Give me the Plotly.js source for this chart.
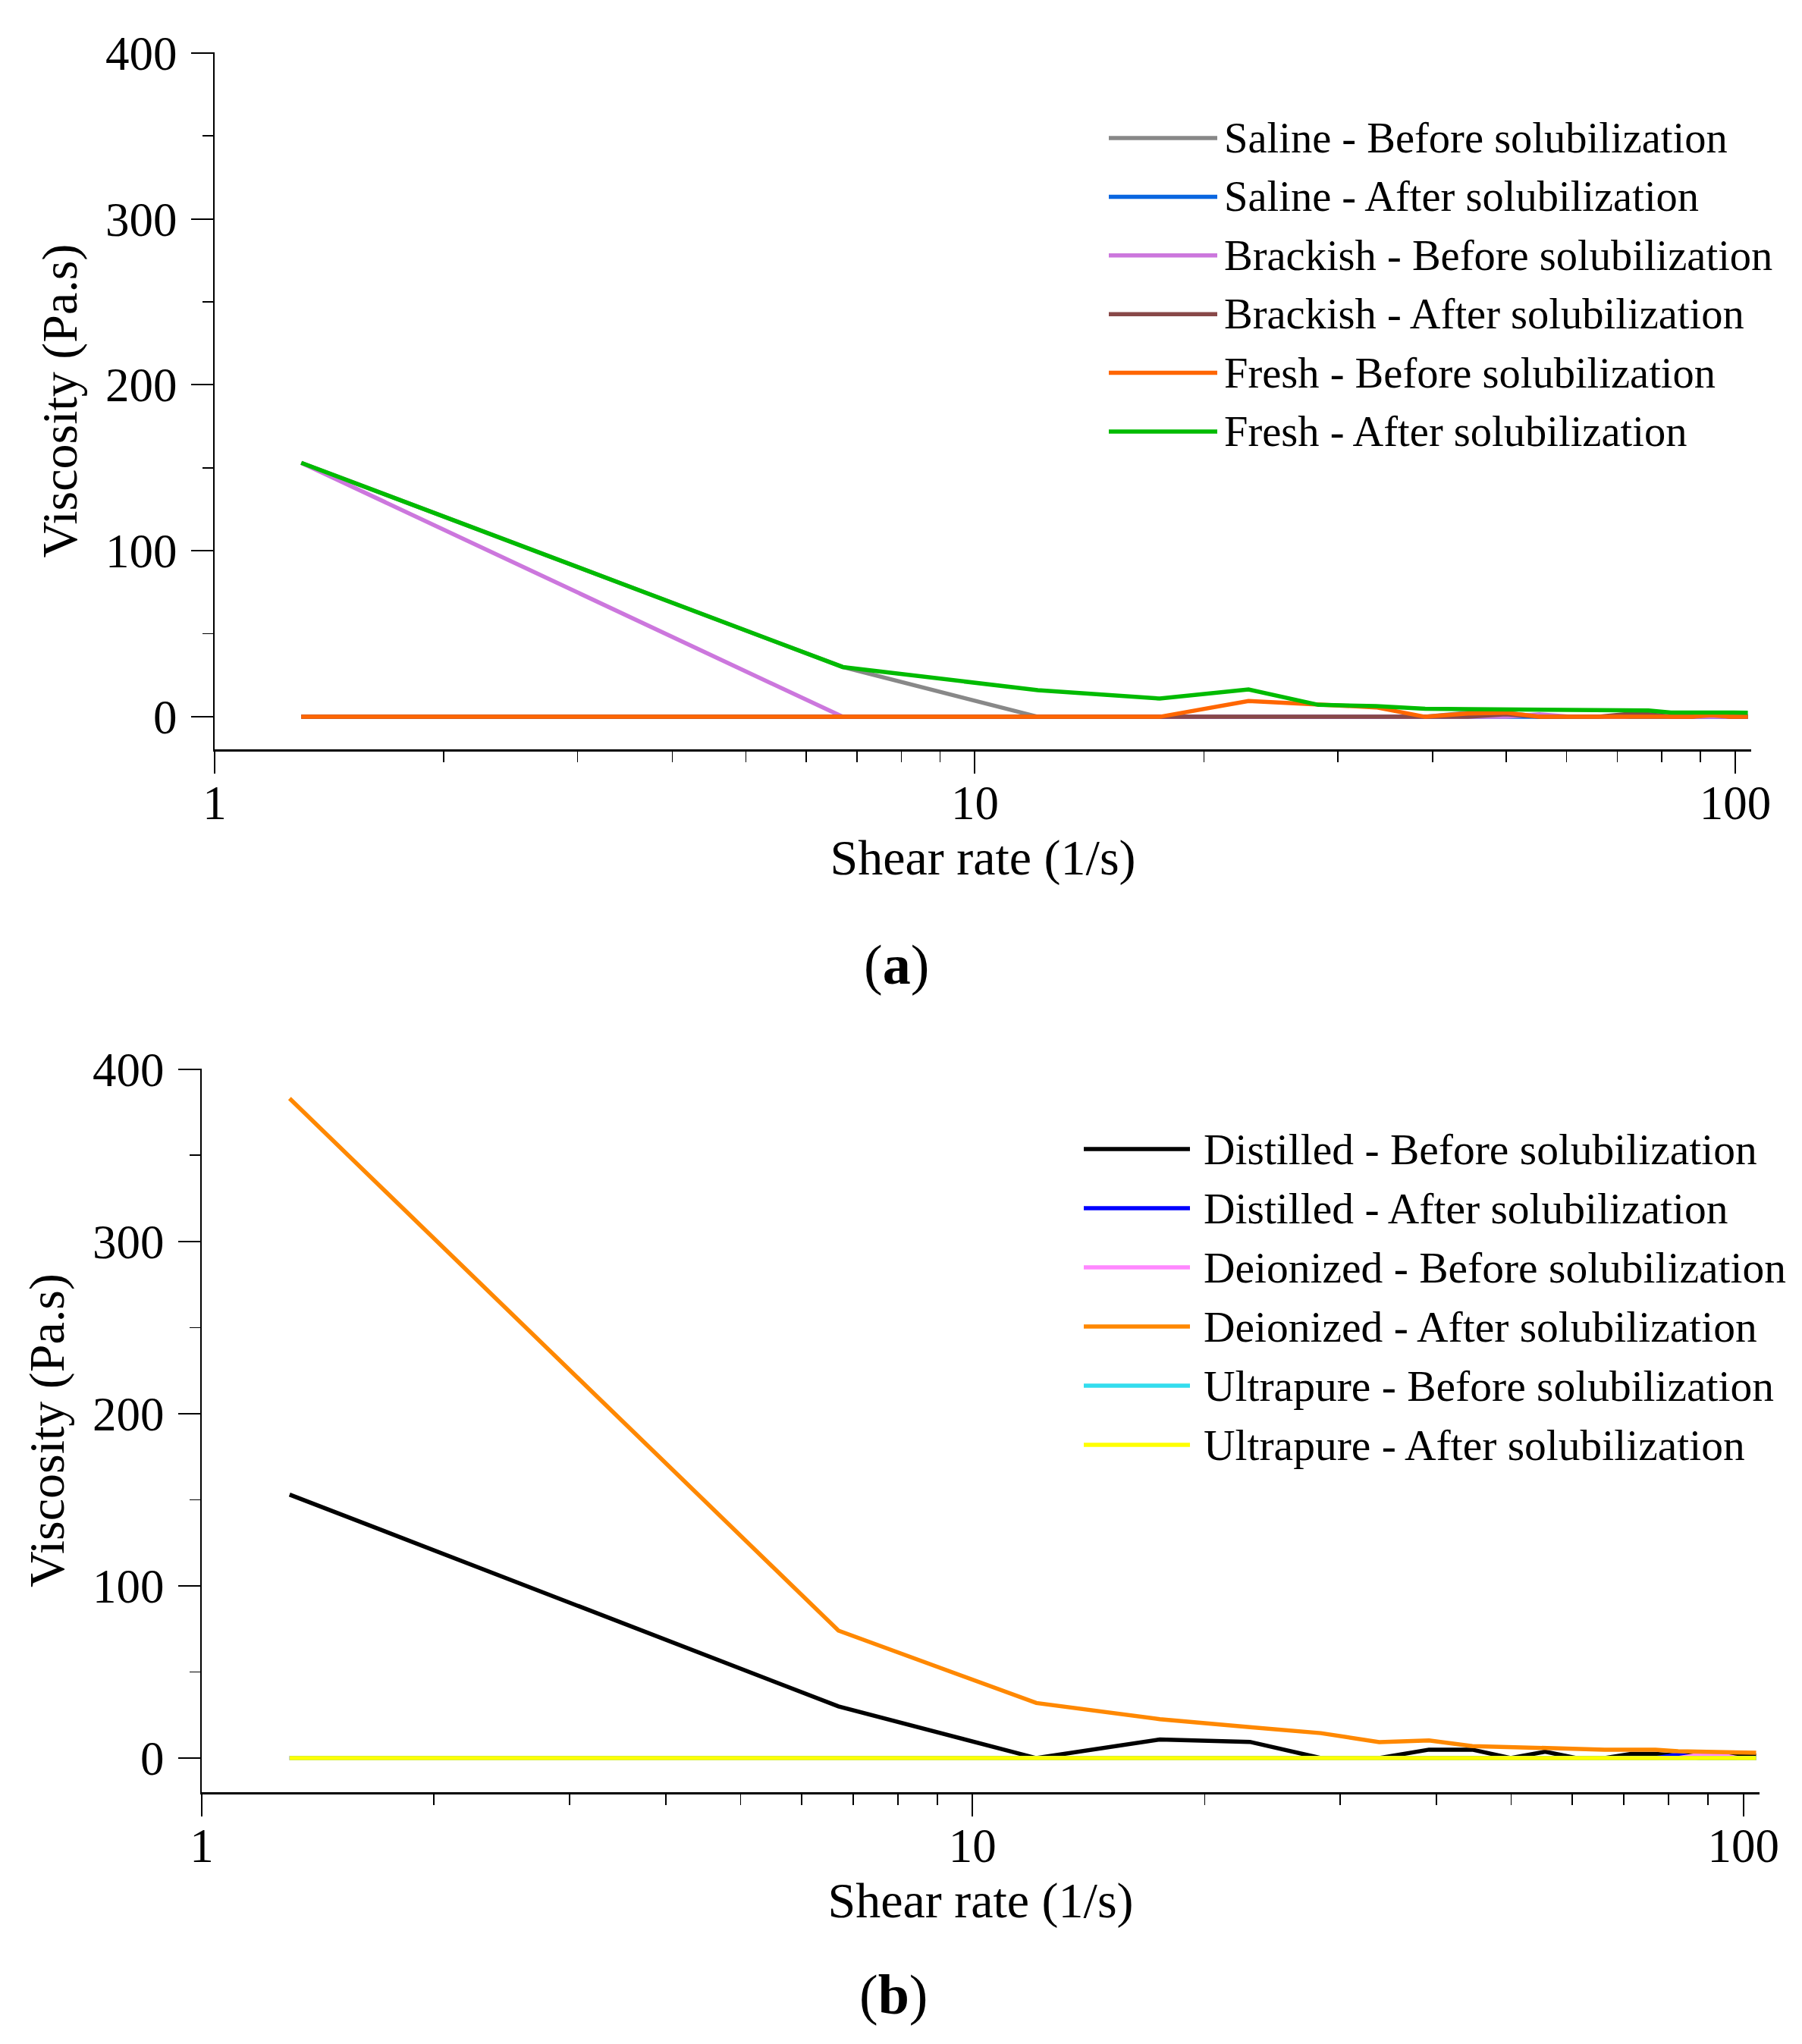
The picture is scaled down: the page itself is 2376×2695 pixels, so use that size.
<!DOCTYPE html>
<html>
<head>
<meta charset="utf-8">
<script src="https://cdn.plot.ly/plotly-3.0.1.min.js"></script>
<style>
   body { margin: 0; background: #fff; }
   #graph { width: 2376px; height: 2695px; }
</style>
</head>
<body>
<div id="graph"></div>
<script>
// shear rate steps (1/s), same for both panels
const shearRate = [1.3, 6.7, 12.1, 17.5, 22.9, 28.3, 33.7, 39.1, 44.5, 49.9,
                   55.3, 60.7, 66.1, 71.5, 76.9, 82.3, 87.7, 93.1, 98.5, 103.9];

// panel (a): viscosity (Pa.s)
const salineBefore   = [153, 30, 0, 0, 0, 0, 0, 0, 2.5, 2.5, 0, 0, 0, 0, 0, 0, 0, 0, 0, 0];
const salineAfter    = [0, 0, 0, 0, 0, 0, 0, 0, 0, 0, 0, 0, 0, 0, 0, 0, 0, 0, 0, 0];
const brackishBefore = [153, 0, 0, 0, 0, 0, 0, 0, 0, 0, 1.5, 0, 0, 0, 1.5, 0, 0, 0, 0, 0];
const brackishAfter  = [0, 0, 0, 0, 0, 0, 0, 0, 0, 1.5, 0, 0, 0, 1.5, 1.5, 0, 0, 1.5, 0, 0];
const freshBefore    = [0, 0, 0, 0, 9.5, 7.2, 5.7, 0, 2, 2.5, 0, 0, 0, 0, 0, 0, 0, 1, 0, 0];
const freshAfter     = [153, 30, 16, 11, 16.5, 7.2, 6.4, 4.9, 4.6, 4.4, 4.4, 3.8, 3.8, 3.8, 3.8, 2.6, 2.5, 2.5, 2.5, 2.5];

// panel (b): viscosity (Pa.s)
const distilledBefore  = [153, 30, 0, 10.8, 9.4, 0, 0, 4.9, 4.9, 0, 3.7, 0, 0, 2.4, 2.4, 1.5, 1.5, 1.5, 1.5, 1.5];
const distilledAfter   = [0, 0, 0, 0, 0, 0, 0, 0, 0, 0, 0, 0, 0, 0, 0, 2, 0, 0, 0, 0];
const deionizedBefore  = [0, 0, 0, 0, 0, 0, 0, 0, 0, 0, 0, 0, 0, 0, 0, 0, 2, 2, 0, 0];
const deionizedAfter   = [383, 74, 32, 22.6, 18, 14.5, 9.3, 10.3, 7, 6.3, 5.9, 5.2, 4.9, 4.9, 4.9, 4, 3.7, 3.4, 3.2, 3.1];
const ultrapureBefore  = [0, 0, 0, 0, 0, 0, 0, 0, 0, 0, 0, 0, 0, 0, 0, 0, 0, 0, 0, 0];
const ultrapureAfter   = [0, 0, 0, 0, 0, 0, 0, 0, 0, 0, 0, 0, 0, 0, 0, 0, 0, 0, 0, 0];

const namesA = ['Saline - Before solubilization', 'Saline - After solubilization',
                'Brackish - Before solubilization', 'Brackish - After solubilization',
                'Fresh - Before solubilization', 'Fresh - After solubilization'];
const colorsA = ['#888888', '#0A66E0', '#CC77DD', '#884848', '#FF6600', '#00BB00'];

const namesB = ['Distilled - Before solubilization', 'Distilled - After solubilization',
                'Deionized - Before solubilization', 'Deionized - After solubilization',
                'Ultrapure - Before solubilization', 'Ultrapure - After solubilization'];
const colorsB = ['#000000', '#0000FF', '#FF88FF', '#FF8800', '#33DDEE', '#FFFF00'];

const xTickVals = [1, 10, 100];
const xTickText = ['1', '10', '100'];

const W = 2376, H = 2695;
const FONT = 'Liberation Serif, Times New Roman, serif';
const LINE_W = 5.5;

// pixel position on the page -> paper fraction
function px(x) { return x / W; }
function py(y) { return 1 - y / H; }

function makeTraces(seriesList, names, colors, xaxis, yaxis) {
   return seriesList.map((ys, i) => ({
      name: names[i],
      mode: 'lines',
      x: shearRate,
      y: ys,
      xaxis: xaxis,
      yaxis: yaxis,
      showlegend: false,
      line: {color: colors[i], width: LINE_W}
   }));
}

// legend drawn by hand so the key lines are as long as in the figure
function makeLegend(names, colors, x0, x1, xText, yTop, step, fontSize) {
   const shapes = [], annotations = [];
   names.forEach((name, i) => {
      const y = yTop + i * step;
      shapes.push({
         type: 'line', xref: 'paper', yref: 'paper',
         x0: px(x0), x1: px(x1), y0: py(y), y1: py(y),
         line: {color: colors[i], width: LINE_W}
      });
      annotations.push({
         xref: 'paper', yref: 'paper', x: px(xText), y: py(y),
         xanchor: 'left', yanchor: 'middle', showarrow: false,
         text: name, font: {size: fontSize, color: '#000'}
      });
   });
   return {shapes, annotations};
}

function xAxis(domain, anchor) {
   return {
      type: 'log', domain: domain, anchor: anchor, range: [0, 2.021],
      tickmode: 'array', tickvals: xTickVals, ticktext: xTickText,
      ticks: 'outside', ticklen: 29, tickwidth: 2, tickcolor: '#000',
      ticklabelstandoff: -15,
      minor: {dtick: 'D1', ticks: 'outside', ticklen: 14, tickwidth: 1.5, tickcolor: '#000', showgrid: false},
      showline: true, linecolor: '#000', linewidth: 2.5,
      showgrid: false, zeroline: false,
      tickfont: {size: 63, color: '#000'},
      title: {text: 'Shear rate (1/s)', font: {size: 66, color: '#000'}, standoff: 0}
   };
}

function yAxis(domain, anchor, range) {
   return {
      domain: domain, anchor: anchor, range: range,
      tick0: 0, dtick: 100,
      ticks: 'outside', ticklen: 29, tickwidth: 2, tickcolor: '#000',
      ticklabelstandoff: 6,
      minor: {dtick: 50, ticks: 'outside', ticklen: 14, tickwidth: 1.5, tickcolor: '#000', showgrid: false},
      showline: true, linecolor: '#000', linewidth: 2,
      showgrid: false, zeroline: false,
      tickfont: {size: 63, color: '#000'},
      title: {text: 'Viscosity (Pa.s)', font: {size: 66, color: '#000'}, standoff: 16}
   };
}

const data = makeTraces(
   [salineBefore, salineAfter, brackishBefore, brackishAfter, freshBefore, freshAfter],
   namesA, colorsA, 'x', 'y'
).concat(makeTraces(
   [distilledBefore, distilledAfter, deionizedBefore, deionizedAfter, ultrapureBefore, ultrapureAfter],
   namesB, colorsB, 'x2', 'y2'
));

const legA = makeLegend(namesA, colorsA, 1462, 1605, 1612, 182, 77.4, 56.5);
const legB = makeLegend(namesB, colorsB, 1429, 1569, 1585, 1515, 78, 57.5);

const panelLabels = [
   {xref: 'paper', yref: 'paper', x: px(1182), y: py(1272), xanchor: 'center', yanchor: 'middle',
    showarrow: false, text: '(<b>a</b>)', font: {size: 74, color: '#000'}},
   {xref: 'paper', yref: 'paper', x: px(1178), y: py(2630), xanchor: 'center', yanchor: 'middle',
    showarrow: false, text: '(<b>b</b>)', font: {size: 74, color: '#000'}}
];

const layout = {
   width: W, height: H, autosize: false,
   margin: {l: 0, r: 0, t: 0, b: 0, pad: 0},
   paper_bgcolor: '#fff', plot_bgcolor: '#fff',
   font: {family: FONT, color: '#000'},
   showlegend: false,
   xaxis: xAxis([px(283), px(2309)], 'y'),
   yaxis: yAxis([py(988), py(69)], 'x', [-19.6, 400.3]),
   xaxis2: xAxis([px(266), px(2320)], 'y2'),
   yaxis2: yAxis([py(2363), py(1409)], 'x2', [-19.8, 400.3]),
   shapes: legA.shapes.concat(legB.shapes),
   annotations: legA.annotations.concat(legB.annotations, panelLabels)
};

Plotly.newPlot('graph', data, layout, {staticPlot: true});
</script>
</body>
</html>
